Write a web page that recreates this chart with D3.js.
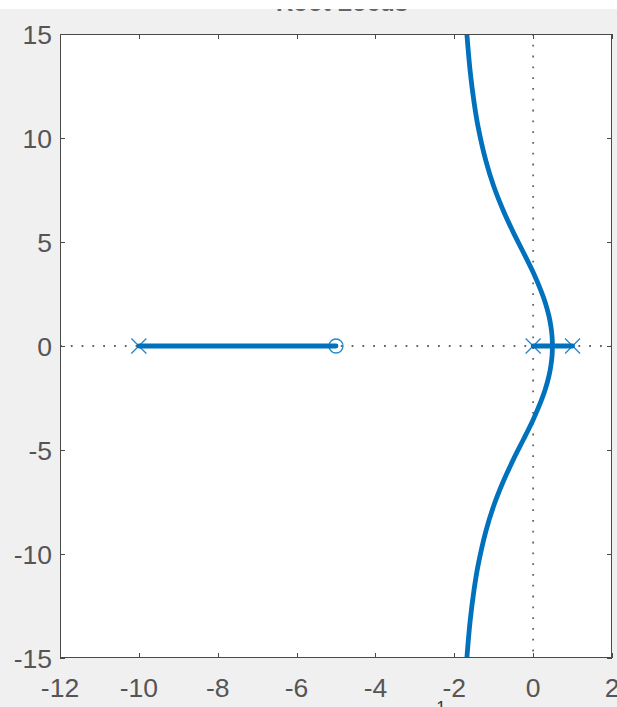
<!DOCTYPE html>
<html>
<head>
<meta charset="utf-8">
<script src="https://cdn.jsdelivr.net/npm/d3@7"></script>
<style>
  html, body { margin: 0; padding: 0; background: #ffffff; overflow: hidden; }
  svg { display: block; }
</style>
</head>
<body>
<svg id="chart" width="617" height="707"></svg>
<script>
// Axis ticks
const xTicks = [-12, -10, -8, -6, -4, -2, 0, 2];
const yTicks = [-15, -10, -5, 0, 5, 10, 15];

// Open-loop poles (x) and zero (o)
const poleRe = [-10, 0, 1];
const zeroRe = [-5];

// Real-axis locus segments [from, to]
const realSegFrom = [-10, 0];
const realSegTo = [-5, 1];

// Complex branches leaving the breakaway point near s = 0.49
const upperRe = [0.49, 0.48, 0.45, 0.40, 0.30, 0.20, 0.00, -0.25, -0.50, -0.75, -1.00, -1.20, -1.40, -1.50, -1.60, -1.70];
const upperIm = [0.00, 0.46, 0.95, 1.45, 2.13, 2.65, 3.54, 4.51, 5.45, 6.48, 7.68, 8.91, 10.58, 11.74, 13.26, 15.46];
const lowerRe = [0.49, 0.48, 0.45, 0.40, 0.30, 0.20, 0.00, -0.25, -0.50, -0.75, -1.00, -1.20, -1.40, -1.50, -1.60, -1.70];
const lowerIm = [0.00, -0.46, -0.95, -1.45, -2.13, -2.65, -3.54, -4.51, -5.45, -6.48, -7.68, -8.91, -10.58, -11.74, -13.26, -15.46];

const W = 617, H = 707;
const plot = { left: 60, right: 612, top: 34, bottom: 658 };
const blue = "#0072BD";
const axisColor = "#4a4a4a";
const labelColor = "#555555";
const fontFamily = "'Liberation Sans', Arial, Helvetica, sans-serif";
const tickFont = 26.5;

const svg = d3.select("#chart");

// White band above, grey figure below
svg.append("rect").attr("x", 0).attr("y", 0).attr("width", W).attr("height", H).attr("fill", "#ffffff");
svg.append("rect").attr("x", 0).attr("y", 9).attr("width", W).attr("height", H - 9).attr("fill", "#f0f0f0");

const x = d3.scaleLinear().domain([-12, 2]).range([plot.left, plot.right]);
const y = d3.scaleLinear().domain([-15, 15]).range([plot.bottom, plot.top]);

// Title: only its lowest edge lies inside the figure window
const titleView = svg.append("svg")
  .attr("x", 0).attr("y", 9).attr("width", W).attr("height", 3)
  .attr("viewBox", `0 9 ${W} 3`)
  .attr("overflow", "hidden");
titleView.append("text")
  .attr("x", 342).attr("y", 10.5)
  .attr("text-anchor", "middle")
  .attr("font-family", fontFamily).attr("font-size", 24).attr("font-weight", "bold")
  .attr("fill", "#666")
  .text("Root Locus");

// Axes area
svg.append("rect")
  .attr("x", plot.left).attr("y", plot.top)
  .attr("width", plot.right - plot.left).attr("height", plot.bottom - plot.top)
  .attr("fill", "#ffffff");

svg.append("clipPath").attr("id", "plotClip")
  .append("rect")
  .attr("x", plot.left).attr("y", plot.top)
  .attr("width", plot.right - plot.left).attr("height", plot.bottom - plot.top);

const g = svg.append("g").attr("clip-path", "url(#plotClip)");

// Dotted reference lines through the origin
g.append("line")
  .attr("x1", x(-12)).attr("x2", x(2)).attr("y1", y(0)).attr("y2", y(0))
  .attr("stroke", "#666").attr("stroke-width", 1.8).attr("stroke-dasharray", "1.8,9");
g.append("line")
  .attr("x1", x(0)).attr("x2", x(0)).attr("y1", y(15)).attr("y2", y(-15))
  .attr("stroke", "#666").attr("stroke-width", 1.8).attr("stroke-dasharray", "1.8,9");

// Locus branches
const line = d3.line().x(d => x(d[0])).y(d => y(d[1])).curve(d3.curveCatmullRom.alpha(0.5));
const upper = upperRe.map((v, i) => [v, upperIm[i]]);
const lower = lowerRe.map((v, i) => [v, lowerIm[i]]);
[upper, lower].forEach(pts => {
  g.append("path").attr("d", line(pts))
    .attr("fill", "none").attr("stroke", blue).attr("stroke-width", 4.8).attr("stroke-linejoin", "round");
});
realSegFrom.forEach((a, i) => {
  g.append("line")
    .attr("x1", x(a)).attr("x2", x(realSegTo[i])).attr("y1", y(0)).attr("y2", y(0))
    .attr("stroke", blue).attr("stroke-width", 4.8).attr("stroke-linecap", "round");
});

// Pole markers
const m = 7.5;
poleRe.forEach(p => {
  const cx = x(p), cy = y(0);
  g.append("path")
    .attr("d", `M${cx - m},${cy - m}L${cx + m},${cy + m}M${cx - m},${cy + m}L${cx + m},${cy - m}`)
    .attr("stroke", blue).attr("stroke-width", 1.3).attr("fill", "none").attr("stroke-opacity", 0.85);
});
// Zero markers
zeroRe.forEach(z => {
  g.append("circle").attr("cx", x(z)).attr("cy", y(0)).attr("r", 7)
    .attr("fill", "none").attr("stroke", blue).attr("stroke-width", 1.3).attr("stroke-opacity", 0.85);
});

// Box and inward ticks
const tickLen = 5;
const axes = svg.append("g").attr("stroke", axisColor).attr("stroke-width", 1).attr("fill", "none");
axes.append("rect")
  .attr("x", plot.left + 0.5).attr("y", plot.top + 0.5)
  .attr("width", plot.right - plot.left - 1).attr("height", plot.bottom - plot.top - 1);
xTicks.forEach(t => {
  const px = Math.round(x(t)) + 0.5;
  axes.append("line").attr("x1", px).attr("x2", px).attr("y1", plot.bottom).attr("y2", plot.bottom - tickLen);
  axes.append("line").attr("x1", px).attr("x2", px).attr("y1", plot.top).attr("y2", plot.top + tickLen);
});
yTicks.forEach(t => {
  const py = Math.round(y(t)) + 0.5;
  axes.append("line").attr("y1", py).attr("y2", py).attr("x1", plot.left).attr("x2", plot.left + tickLen);
  axes.append("line").attr("y1", py).attr("y2", py).attr("x1", plot.right).attr("x2", plot.right - tickLen);
});

// Tick labels
const fmt = d => (d < 0 ? "-" : "") + Math.abs(d);
svg.append("g").selectAll("text").data(xTicks).join("text")
  .attr("x", d => x(d)).attr("y", 696.5)
  .attr("text-anchor", "middle")
  .attr("font-family", fontFamily).attr("font-size", tickFont).attr("fill", labelColor)
  .text(fmt);
svg.append("g").selectAll("text").data(yTicks).join("text")
  .attr("x", 52).attr("y", d => y(d) + 9.5)
  .attr("text-anchor", "end")
  .attr("font-family", fontFamily).attr("font-size", tickFont).attr("fill", labelColor)
  .text(fmt);

// Axis label, mostly below the visible figure
const xl = svg.append("text")
  .attr("x", 336).attr("y", 728)
  .attr("text-anchor", "middle")
  .attr("font-family", fontFamily).attr("font-size", 25).attr("fill", "#333");
xl.append("tspan").text("Real Axis (seconds");
xl.append("tspan").attr("font-size", 17).attr("dy", -15).text("-1");
xl.append("tspan").attr("dy", 15).text(")");
</script>
</body>
</html>
